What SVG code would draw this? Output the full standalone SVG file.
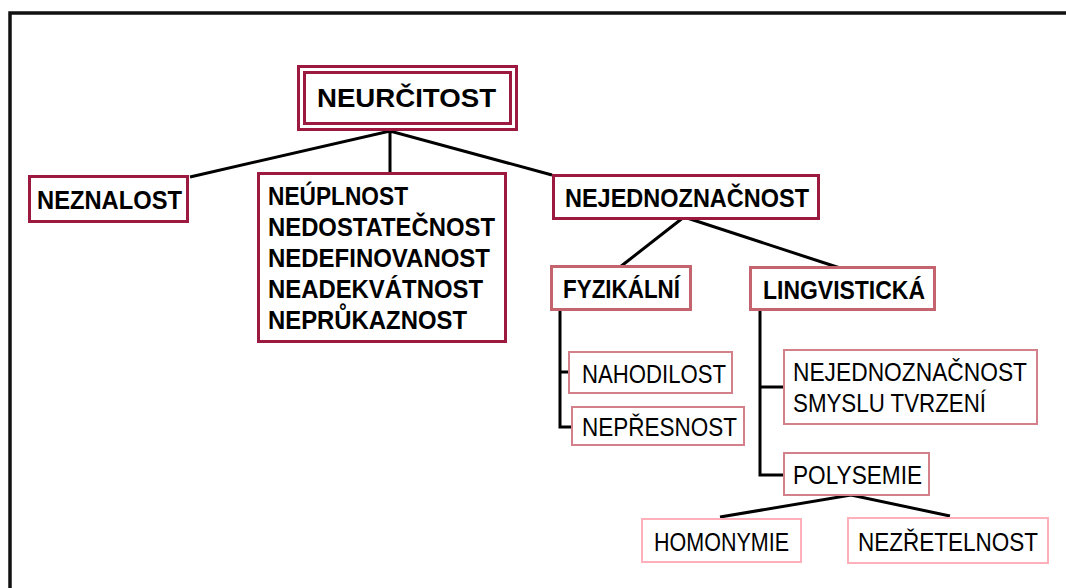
<svg xmlns="http://www.w3.org/2000/svg" width="1066" height="588" viewBox="0 0 1066 588">
<style>
.b{font-family:"Liberation Sans",Arial,sans-serif;font-weight:bold;font-size:26px;fill:#000}
.r{font-family:"Liberation Sans",Arial,sans-serif;font-size:25px;fill:#000}
.l1{fill:#fff;stroke:#9c1a3f;stroke-width:3}
.l2{fill:#fff;stroke:#c4646f;stroke-width:3}
.l3{fill:#fff;stroke:#d3808a;stroke-width:2}
.l4{fill:#fff;stroke:#ffb0bb;stroke-width:2}
.c{fill:none;stroke:#000;stroke-width:3}
</style>
<rect width="1066" height="588" fill="#fff"/>
<path d="M10,592 V13 H1070" fill="none" stroke="#111" stroke-width="3.5"/>
<g id="connectors">
<path class="c" d="M190,177 L390,131 L552,175 M390,131 V174"/>
<path class="c" d="M620,267 L684,217 L840,268"/>
<path class="c" d="M560,310 V427 H572 M560,372 H569"/>
<path class="c" d="M760,310 V475 H784 M760,387 H784"/>
<path class="c" d="M720,517 L851,495 L950,516"/>
</g>
<g id="neurcitost">
<rect class="l1" x="298.5" y="66.5" width="218" height="63"/>
<rect class="l1" x="304.5" y="72.5" width="206" height="51"/>
<text class="b" x="317" y="107" font-size="27" textLength="179" lengthAdjust="spacingAndGlyphs">NEURČITOST</text>
</g>
<g id="neznalost">
<rect class="l1" x="29.5" y="176.5" width="158" height="45"/>
<text class="b" x="37" y="209" textLength="145" lengthAdjust="spacingAndGlyphs">NEZNALOST</text>
</g>
<g id="neuplnost">
<rect class="l1" x="258.5" y="173.5" width="247" height="168"/>
<text class="b" x="268" y="205" textLength="140" lengthAdjust="spacingAndGlyphs">NEÚPLNOST</text>
<text class="b" x="268" y="236" textLength="227" lengthAdjust="spacingAndGlyphs">NEDOSTATEČNOST</text>
<text class="b" x="268" y="267" textLength="222" lengthAdjust="spacingAndGlyphs">NEDEFINOVANOST</text>
<text class="b" x="268" y="298" textLength="215" lengthAdjust="spacingAndGlyphs">NEADEKVÁTNOST</text>
<text class="b" x="268" y="329" textLength="199" lengthAdjust="spacingAndGlyphs">NEPRŮKAZNOST</text>
</g>
<g id="nejednoznacnost">
<rect class="l1" x="553.5" y="175.5" width="265" height="43"/>
<text class="b" x="565" y="207" textLength="244" lengthAdjust="spacingAndGlyphs">NEJEDNOZNAČNOST</text>
</g>
<g id="fyzikalni">
<rect class="l2" x="551.5" y="266.5" width="139" height="43"/>
<text class="b" x="563" y="298" textLength="117" lengthAdjust="spacingAndGlyphs">FYZIKÁLNÍ</text>
</g>
<g id="lingvisticka">
<rect class="l2" x="750.5" y="267.5" width="184" height="42"/>
<text class="b" x="763" y="299" textLength="162" lengthAdjust="spacingAndGlyphs">LINGVISTICKÁ</text>
</g>
<g id="nahodilost">
<rect class="l3" x="569" y="352" width="163" height="41"/>
<text class="r" x="582" y="383" textLength="144" lengthAdjust="spacingAndGlyphs">NAHODILOST</text>
</g>
<g id="nepresnost">
<rect class="l3" x="572" y="407" width="172" height="38"/>
<text class="r" x="582" y="436" textLength="155" lengthAdjust="spacingAndGlyphs">NEPŘESNOST</text>
</g>
<g id="smysl">
<rect class="l3" x="784" y="350" width="253" height="74"/>
<text class="r" x="793" y="381" textLength="234" lengthAdjust="spacingAndGlyphs">NEJEDNOZNAČNOST</text>
<text class="r" x="793" y="412" textLength="193" lengthAdjust="spacingAndGlyphs">SMYSLU TVRZENÍ</text>
</g>
<g id="polysemie">
<rect class="l3" x="784" y="453" width="145" height="42"/>
<text class="r" x="793" y="484" textLength="129" lengthAdjust="spacingAndGlyphs">POLYSEMIE</text>
</g>
<g id="homonymie">
<rect class="l4" x="642" y="519" width="159" height="43"/>
<text class="r" x="654" y="551" textLength="135" lengthAdjust="spacingAndGlyphs">HOMONYMIE</text>
</g>
<g id="nezretelnost">
<rect class="l4" x="848" y="518" width="200" height="45"/>
<text class="r" x="858" y="551" textLength="180" lengthAdjust="spacingAndGlyphs">NEZŘETELNOST</text>
</g>
</svg>
